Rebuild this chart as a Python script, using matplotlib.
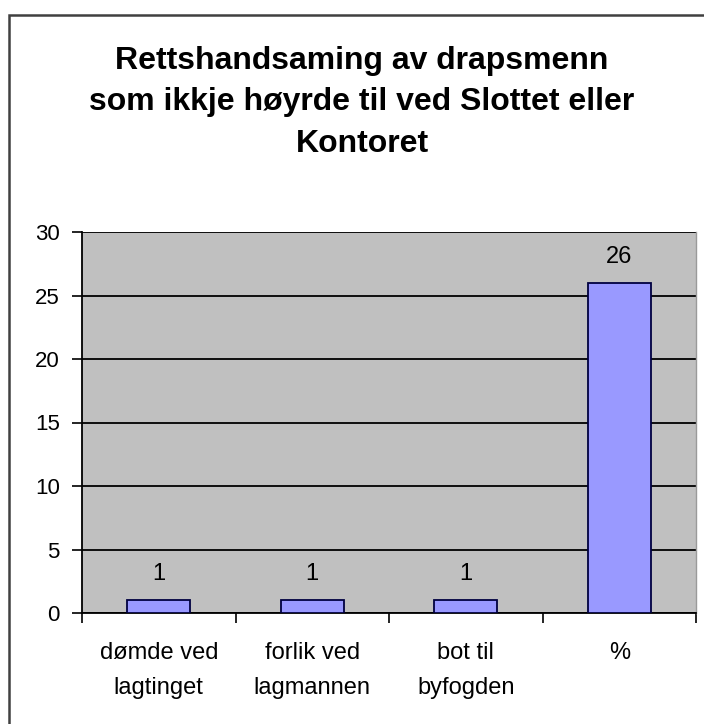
import numpy as np
from matplotlib import pyplot as plt
from matplotlib.patches import Rectangle

plt.rcParams['font.family'] = ['Liberation Sans', 'DejaVu Sans']

categories = ["dømde ved\nlagtinget", "forlik ved\nlagmannen", "bot til\nbyfogden", "%"]
values = [1, 1, 1, 26]
title = "Rettshandsaming av drapsmenn\nsom ikkje høyrde til ved Slottet eller\nKontoret"

fig = plt.figure(figsize=(7.04, 7.24), dpi=100)
fig.patch.set_facecolor("white")

# outer chart border (runs off the right and bottom edge)
fig.patches.append(Rectangle((9 / 704, -0.05), 1.2, (724 - 15) / 724 + 0.05,
                             transform=fig.transFigure, fill=False,
                             edgecolor="#404040", linewidth=1.8))

fig.text(362 / 704, 1 - 102 / 724, title, ha="center", va="center",
         fontsize=23, fontweight="bold", linespacing=1.5)

ax = fig.add_axes([82 / 704, 111 / 724, 614 / 704, 381 / 724])
ax.set_facecolor("#C0C0C0")

x = np.arange(len(categories))
bars = ax.bar(x, values, width=0.41, color="#9999FF", edgecolor="#000040",
              linewidth=1.3, zorder=3)
for xi, v in zip(x, values):
    ax.annotate(str(v), (xi, v), xytext=(0, 11), textcoords="offset points",
                ha="center", va="bottom", fontsize=17)

ax.set_xlim(-0.5, len(categories) - 0.5)
ax.set_ylim(0, 30)
ax.set_yticks(range(0, 31, 5))
ax.set_xticks(np.arange(-0.5, len(categories), 1.0))
ax.set_xticklabels([])
ax.set_xticks(x, minor=True)
ax.set_xticklabels(categories, minor=True, fontsize=17, linespacing=1.75)
ax.tick_params(axis="x", which="minor", length=0, pad=21)
ax.tick_params(axis="x", which="major", length=7, direction="out", width=1.2)
ax.tick_params(axis="y", length=7, direction="out", width=1.2, labelsize=16, pad=9)
ax.yaxis.grid(True, color="black", linewidth=1.3, zorder=1)
ax.set_axisbelow(True)

ax.spines["top"].set_visible(False)
ax.spines["right"].set_color("#9a9a9a")
ax.spines["right"].set_linewidth(1.0)
ax.spines["left"].set_linewidth(1.3)
ax.spines["bottom"].set_linewidth(1.3)

plt.savefig("out.png", dpi=100)
